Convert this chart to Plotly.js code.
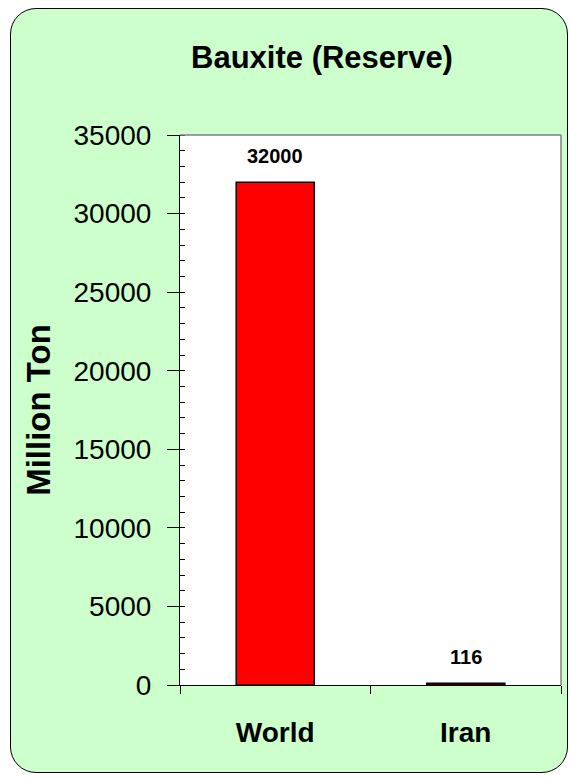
<!DOCTYPE html>
<html>
<head>
<meta charset="utf-8">
<script src="https://cdn.plot.ly/plotly-3.0.1.min.js"></script>
<style>
  html, body { margin: 0; padding: 0; background: #ffffff; }
  #frame { position: absolute; left: 10px; top: 8px; width: 556px; height: 763px;
           background: #ccffcc; border: 1px solid #000; border-radius: 26px; }
  #chart { position: absolute; left: 0; top: 0; width: 570px; height: 778px; }
</style>
</head>
<body>
<div id="frame"></div>
<div id="chart"></div>
<script>
const categories = ["World", "Iran"];
const values = [32000, 116];
const valueLabels = ["32000", "116"];
const yTicks = [0, 5000, 10000, 15000, 20000, 25000, 30000, 35000];

const font = "Liberation Sans, Arial, sans-serif";

const trace = {
  type: "bar",
  x: categories,
  y: values,
  marker: { color: "#ff0000", line: { color: "#000000", width: 1.5 } },
  width: 0.41,
  hoverinfo: "skip"
};

const annotations = categories.map((c, i) => ({
  x: c, y: values[i], xref: "x", yref: "y",
  text: "<b>" + valueLabels[i] + "</b>",
  showarrow: false, yanchor: "bottom", yshift: 13,
  font: { family: font, size: 20, color: "#000" }
}));

const layout = {
  width: 570, height: 778,
  margin: { l: 180, r: 9, t: 135, b: 93 },
  paper_bgcolor: "rgba(0,0,0,0)",
  plot_bgcolor: "#ffffff",
  showlegend: false,
  bargap: 0.59,
  title: {
    text: "<b>Bauxite (Reserve)</b>",
    font: { family: font, size: 31, color: "#000" },
    xref: "container", x: 322/570, xanchor: "center",
    yref: "container", y: 1 - 57/778, yanchor: "middle"
  },
  xaxis: {
    type: "category",
    showgrid: false,
    showline: true, linecolor: "#000", linewidth: 1,
    ticks: "outside", ticklen: 8, tickcolor: "#000", tickwidth: 1,
    tickson: "boundaries",
    ticklabelstandoff: 22,
    tickfont: { family: font, size: 28, color: "#000", weight: "bold" },
    zeroline: false
  },
  yaxis: {
    range: [0, 35000],
    tickvals: yTicks,
    ticktext: yTicks.map(String),
    showgrid: false, zeroline: false,
    showline: true, linecolor: "#000", linewidth: 1,
    ticks: "outside", ticklen: 12, tickcolor: "#000", tickwidth: 1,
    ticklabelstandoff: 10,
    minor: { dtick: 1000, ticks: "inside", ticklen: 5, tickcolor: "#000", tickwidth: 1, showgrid: false },
    tickfont: { family: font, size: 28, color: "#000" },
    title: { text: "<b>Million Ton</b>", font: { family: font, size: 33, color: "#000" }, standoff: 12 }
  },
  shapes: [
    { type: "line", xref: "paper", yref: "paper", x0: 0, x1: 1, y0: 1, y1: 1, line: { color: "#808080", width: 1.5 } },
    { type: "line", xref: "paper", yref: "paper", x0: 1, x1: 1, y0: 0, y1: 1, line: { color: "#808080", width: 1.5 } }
  ],
  annotations: annotations
};

Plotly.newPlot("chart", [trace], layout, { displayModeBar: false, staticPlot: true });
</script>
</body>
</html>
